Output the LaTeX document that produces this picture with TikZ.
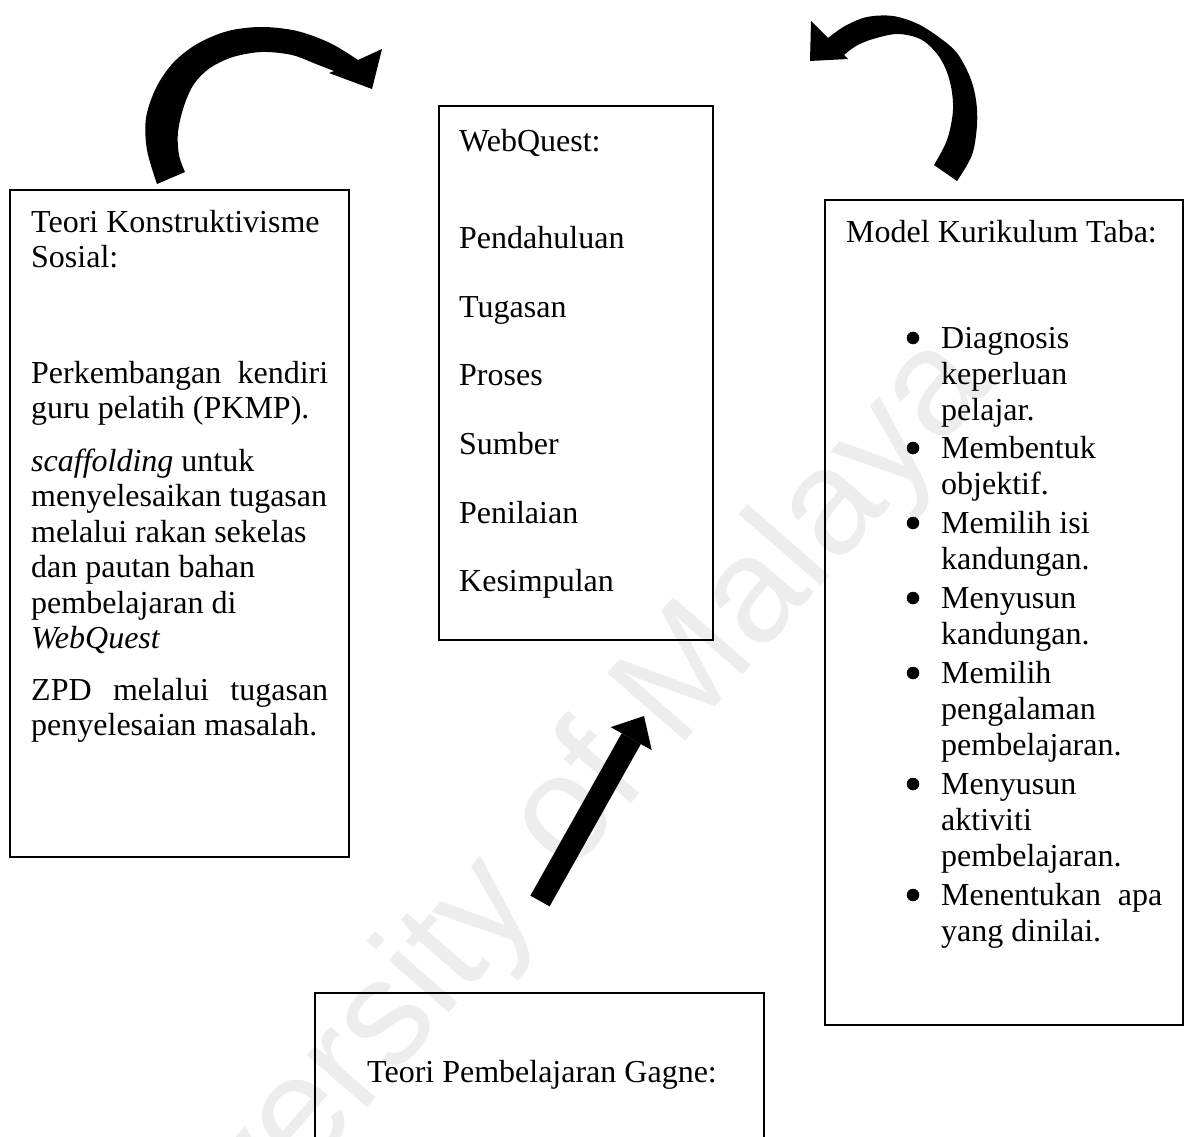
\documentclass[tikz,border=0pt]{standalone}
\usepackage{fontspec}
\setmainfont{Liberation Serif}
\newfontfamily\wmfont{Liberation Sans}
\usetikzlibrary{arrows.meta}
\begin{document}
\begin{tikzpicture}[x=1pt,y=-1pt,
  box/.style={draw=black, line width=1.6pt, anchor=north west, inner sep=0pt, outer sep=0pt},
  txt/.style={anchor=base west, inner sep=0pt, font=\fontsize{32}{35.5}\selectfont},
  bul/.style={circle, fill=black, draw=black, line width=0.5pt, inner sep=0pt, minimum size=12pt},
  blockarrow/.style={line width=22pt, -{Triangle[length=26pt,width=47pt,line width=0pt]}},
  arrowfill/.style={fill=black}
]
\useasboundingbox (0,0) rectangle (1186,1137);
\clip (0,0) rectangle (1186,1137);
\fill[white] (0,0) rectangle (1186,1137);

% watermark
\node[text=black!7, font=\wmfont\fontsize{150}{150}\selectfont, rotate=49, anchor=base east, inner sep=0pt] (wm) at (995,385) {University of Malaya};

% boxes
\node[box, minimum width=339pt, minimum height=667pt] (kons) at (10,190) {};
\node[box, minimum width=274pt, minimum height=534pt] (webq) at (439,106) {};
\node[box, minimum width=358pt, minimum height=825pt] (taba) at (825,200) {};
\node[box, minimum width=449pt, minimum height=300pt] (gagne) at (315,993) {};

% left box text
\node[txt] (k1) at (31,232) {\parbox[t]{300pt}{Teori Konstruktivisme\\Sosial:}};
\node[txt] (k2) at (31,383) {\parbox[t]{300pt}{\makebox[297pt][s]{Perkembangan kendiri}\\guru pelatih (PKMP).}};
\node[txt] (k3) at (31,471) {\parbox[t]{300pt}{\textit{scaffolding} untuk\\menyelesaikan tugasan\\melalui rakan sekelas\\dan pautan bahan\\pembelajaran di\\\textit{WebQuest}}};
\node[txt] (k4) at (31,700) {\parbox[t]{300pt}{\makebox[297pt][s]{ZPD melalui tugasan}\\penyelesaian masalah.}};

% middle box text
\node[txt] (w0) at (459,151) {WebQuest:};
\node[txt] (w1) at (459,248) {Pendahuluan};
\node[txt] (w2) at (459,317) {Tugasan};
\node[txt] (w3) at (459,385.5) {Proses};
\node[txt] (w4) at (459,454) {Sumber};
\node[txt] (w5) at (459,523) {Penilaian};
\node[txt] (w6) at (459,591.5) {Kesimpulan};

% right box text
\node[txt] (t0) at (846,242) {Model Kurikulum Taba:};
\foreach \y/\name/\content in {
  348/i1/{Diagnosis\\keperluan\\pelajar.},
  458/i2/{Membentuk\\objektif.},
  533/i3/{Memilih isi\\kandungan.},
  608/i4/{Menyusun\\kandungan.},
  683/i5/{Memilih\\pengalaman\\pembelajaran.},
  794/i6/{Menyusun\\aktiviti\\pembelajaran.},
  905/i7/{\makebox[221pt][s]{Menentukan apa}\\yang dinilai.}}{
  \node[bul] (b\name) at (913,\y-10) {};
  \node[txt] (\name) at (941,\y) {\parbox[t]{230pt}{\fontsize{32}{36}\selectfont\content}};
}

% bottom box text
\node[txt] (g0) at (367,1082) {Teori Pembelajaran Gagne:};

% straight block arrow
\coordinate (gt) at (540,901);
\coordinate (gh) at (644,716);
\draw[blockarrow] (gt) -- (gh);

% left curved arrow
\fill[arrowfill] plot[smooth, tension=0.55] coordinates {(157,184) (147,150) (146,118) (156,88) (173,63) (197,44) (228,31) (262,27) (297,31) (330,43) (358,60)}
  -- (382,49) -- (372,89) -- (329,73)
  -- plot[smooth, tension=0.55] coordinates {(334,71) (316,64) (292,55) (262,52) (233,57) (210,68) (194,84) (184,106) (178,132) (179,155) (185,172)} -- cycle;

% right curved arrow
\fill[arrowfill] plot[smooth, tension=0.55] coordinates {(957,181) (972,155) (977,125) (976,100) (970,77) (957,53) (940,38) (918,24) (893,16) (867,17) (845,26) (828,38)}
  -- (811,21) -- (810,61) -- (848,59)
  -- plot[smooth, tension=0.55] coordinates {(844,55) (856,46) (873,39) (898,34) (922,40) (940,58) (950,82) (953,110) (947,140) (934,165)} -- cycle;
\end{tikzpicture}
\end{document}
